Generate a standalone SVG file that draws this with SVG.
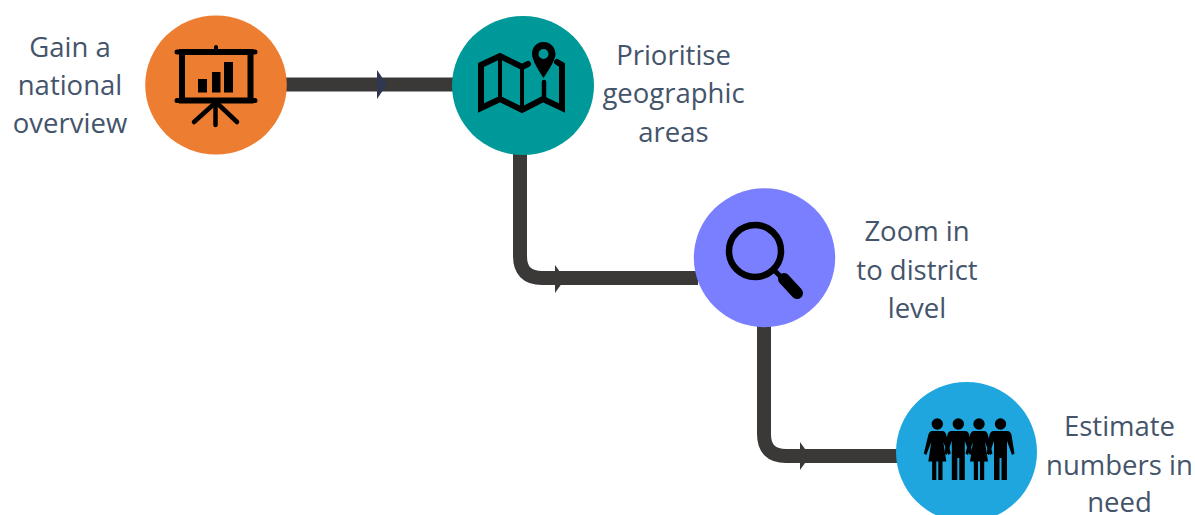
<svg xmlns="http://www.w3.org/2000/svg" width="1195" height="515" viewBox="0 0 1195 515">
<style>
.t{font-family:"Open Sans","Noto Sans",sans-serif;font-size:27.500px;fill:#44546a;text-anchor:middle}
.c{fill:none;stroke:#3b3838;stroke-width:14}
.h{fill:#3b3838}
.i{fill:#000;stroke:none}
.s{fill:none;stroke:#000;stroke-linecap:round;stroke-linejoin:miter}
</style>
<defs>
<g id="person-f"><circle cx="0" cy="-26" r="5.700"/><path d="M-5 -19H5Q8 -19 9 -15L13.500 3.500L11 5L6 -8L9 11.500H5.200V30H1V11.500H-1V30H-5.200V11.500H-9L-6 -8L-11 5L-13.500 3.500L-9 -15Q-8 -19 -5 -19Z"/></g>
<g id="person-m"><circle cx="0" cy="-26" r="5.700"/><path d="M-7 -19H7Q10 -19 11 -15L14 3.500L11.500 5L6.500 -9V30H1V8H-1V30H-6.500V-9L-11.500 5L-14 3.500L-11 -15Q-10 -19 -7 -19Z"/></g>
</defs>
<rect width="1195" height="515" fill="#fff"/>
<g id="connectors">
<path class="c" d="M284 84.500H455"/>
<path d="M377 70L387 84.500L377 99Z" fill="#2f3850"/>
<path class="c" d="M520 150V256Q520 278 542 278H698"/>
<path class="h" d="M555 265L565 279L555 293Z"/>
<path class="c" d="M764 322V434Q764 456 786 456H900"/>
<path class="h" d="M800 442L810 456L800 470Z"/>
</g>
<g id="node-overview">
<ellipse cx="216" cy="85" rx="70.800" ry="69.500" fill="#ed7d31"/>
<g>
<path class="s" d="M177 52H255M177 100.500H255" stroke-width="5"/>
<path class="s" d="M216 47V52" stroke-width="4"/>
<rect class="s" x="182" y="52" width="68.500" height="48.500" stroke-width="6"/>
<rect class="i" x="198" y="79" width="9" height="13.500"/>
<rect class="i" x="212" y="72" width="8.500" height="20.500"/>
<rect class="i" x="224" y="62" width="9" height="30.500"/>
<path class="s" d="M215.500 103V125M214 104L194 122M218 104L237 122" stroke-width="4.500"/>
</g>
<text class="t" x="70" y="57">Gain a</text>
<text class="t" x="70" y="95">national</text>
<text class="t" x="70" y="133">overview</text>
</g>
<g id="node-prioritise">
<ellipse cx="523" cy="85.500" rx="71" ry="69.500" fill="#009999"/>
<g>
<path class="s" d="M528 64L522 67L500 56L481 65V108L500 99L522 110L543 99L562 108V65L557 62" stroke-width="6" stroke-linecap="butt"/>
<path class="s" d="M500 56V99M522 67V110" stroke-width="4" stroke-linecap="butt"/>
<path class="s" d="M544 82V99" stroke-width="4.500" stroke-linecap="butt"/>
<path class="i" fill-rule="evenodd" d="M543.500 42C551 42 555.500 48 555.500 54C555.500 60 548 71 543.500 78C539 71 532 60 532 54C532 48 536 42 543.500 42ZM543.500 49A5 5 0 1 0 543.500 59A5 5 0 1 0 543.500 49Z"/>
</g>
<text class="t" x="673.500" y="65">Prioritise</text>
<text class="t" x="673.500" y="103">geographic</text>
<text class="t" x="673.500" y="142">areas</text>
</g>
<g id="node-zoom">
<ellipse cx="764.500" cy="257.700" rx="70.700" ry="69.500" fill="#7a7fff"/>
<circle cx="755" cy="251" r="26" fill="none" stroke="#000" stroke-width="6.500"/>
<path class="s" d="M776 272L781 277" stroke-width="5"/>
<path class="s" d="M784 279L797 293" stroke-width="12"/>
<text class="t" x="917" y="241">Zoom in</text>
<text class="t" x="917" y="280">to district</text>
<text class="t" x="917" y="318">level</text>
</g>
<g id="node-estimate">
<ellipse cx="966.500" cy="452" rx="70.500" ry="70" fill="#1fa6de"/>
<g class="i">
<use href="#person-f" x="937.300" y="450"/>
<use href="#person-m" x="958.300" y="450"/>
<use href="#person-f" x="979" y="450"/>
<use href="#person-m" x="1000.500" y="450"/>
</g>
<text class="t" x="1119.500" y="436">Estimate</text>
<text class="t" x="1119.500" y="475">numbers in</text>
<text class="t" x="1119.500" y="512">need</text>
</g>
</svg>
